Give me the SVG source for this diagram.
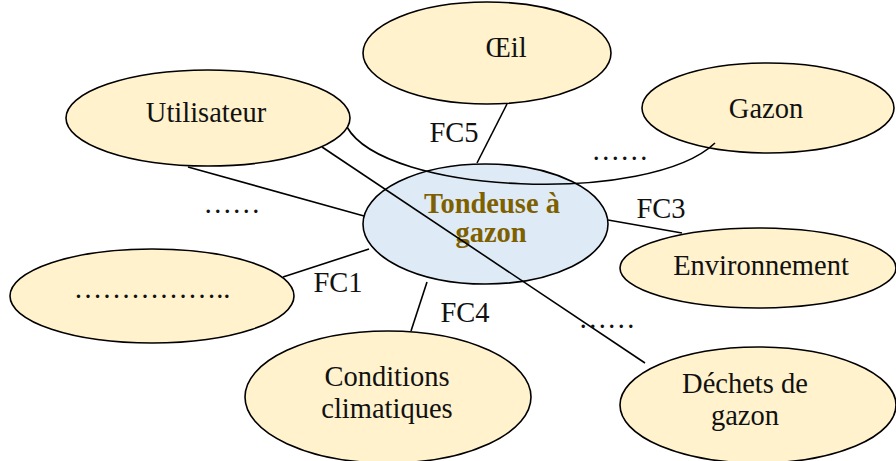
<svg xmlns="http://www.w3.org/2000/svg" width="896" height="461" viewBox="0 0 896 461">
<style>
.n{fill:#FFF2CC;stroke:#000;stroke-width:1.6}
.c{fill:#DEEBF7;stroke:#000;stroke-width:1.6}
.t{font-family:"Liberation Serif","DejaVu Serif",serif;font-size:28.5px;fill:#111;text-anchor:middle}
.b{font-family:"Liberation Serif","DejaVu Serif",serif;font-size:28.5px;font-weight:bold;fill:#7F6000;text-anchor:middle}
.l{fill:none;stroke:#000;stroke-width:1.6}
</style>
<rect width="896" height="461" fill="#fff"/>
<g id="oeil"><ellipse class="n" cx="487" cy="53" rx="124" ry="51"/><text class="t" x="506" y="57">Œil</text></g>
<g id="utilisateur"><ellipse class="n" cx="208" cy="118" rx="142" ry="48"/><text class="t" x="206" y="122">Utilisateur</text></g>
<g id="gazon"><ellipse class="n" cx="768" cy="108" rx="126" ry="45"/><text class="t" x="766" y="118">Gazon</text></g>
<g id="inconnu"><ellipse class="n" cx="152" cy="296" rx="142" ry="47"/><text class="t" x="152" y="298">……………..</text></g>
<g id="environnement"><ellipse class="n" cx="758" cy="268" rx="138" ry="40"/><text class="t" x="761" y="275">Environnement</text></g>
<g id="conditions"><ellipse class="n" cx="388" cy="397" rx="143" ry="66"/><text class="t" x="387" y="386">Conditions</text><text class="t" x="387" y="418">climatiques</text></g>
<g id="dechets"><ellipse class="n" cx="758" cy="405" rx="138" ry="58"/><text class="t" x="745" y="393">Déchets de</text><text class="t" x="745" y="425">gazon</text></g>
<g id="tondeuse"><ellipse class="c" cx="485.5" cy="224" rx="122.5" ry="60"/><text class="b" x="492" y="213">Tondeuse à</text><text class="b" x="491" y="242">gazon</text></g>
<g id="connectors">
<line class="l" x1="188" y1="167" x2="364" y2="216"/>
<line class="l" x1="322" y1="147" x2="645" y2="363"/>
<line class="l" x1="507" y1="104" x2="477" y2="163"/>
<path class="l" d="M347,127 C385,195 650,205 715,143"/>
<line class="l" x1="608" y1="220" x2="682" y2="233"/>
<line class="l" x1="369" y1="249" x2="283" y2="277"/>
<line class="l" x1="427" y1="282" x2="411" y2="331"/>
</g>
<g id="labels">
<text class="t" x="454" y="142">FC5</text>
<text class="t" x="661" y="218">FC3</text>
<text class="t" x="338" y="292">FC1</text>
<text class="t" x="465" y="322">FC4</text>
<text class="t" x="232" y="213">……</text>
<text class="t" x="620" y="160">……</text>
<text class="t" x="607" y="328">……</text>
</g>
</svg>
